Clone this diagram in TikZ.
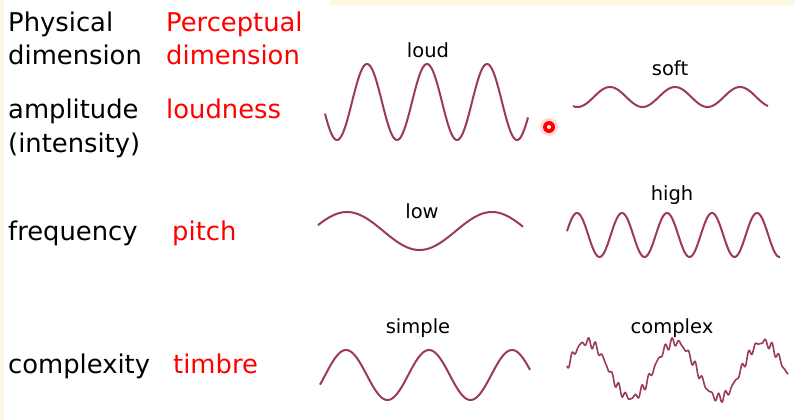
\documentclass[tikz,border=0pt]{standalone}
\usepackage{fontspec}
\setmainfont{DejaVu Sans}
\begin{document}
\begin{tikzpicture}[x=1pt,y=-1pt,
  big/.style={anchor=base west,inner sep=0pt,font=\fontsize{25.8}{30}\selectfont},
  phys/.style={big,text=black},
  perc/.style={big,text=red},
  lab/.style={anchor=base,inner sep=0pt,font=\fontsize{19.5}{23}\selectfont},
  wave/.style={line width=2pt,color=wavec,line join=round}]
\definecolor{wavec}{HTML}{9A3A5C}
\definecolor{cream}{HTML}{FDF8E4}
\useasboundingbox (0,0) rectangle (795,420);
\fill[white] (0,0) rectangle (795,420);
\fill[cream] (330,0) rectangle (795,5);
\fill[cream] (0,0) rectangle (4,420);
\node[phys] (p1) at (8,32) {Physical};
\node[phys] (p2) at (8,65) {dimension};
\node[phys] (p3) at (8,118) {amplitude};
\node[phys] (p4) at (8,152) {(intensity)};
\node[phys] (p5) at (8,240) {frequency};
\node[phys] (p6) at (8,373) {complexity};
\node[perc] (q1) at (166,32) {Perceptual};
\node[perc] (q2) at (166,65) {dimension};
\node[perc] (q3) at (166,118) {loudness};
\node[perc] (q4) at (172,240) {pitch};
\node[perc] (q5) at (173,373) {timbre};
\node[lab] (l1) at (428,58) {loud};
\node[lab] (l2) at (670,75) {soft};
\node[lab] (l3) at (422,218) {low};
\node[lab] (l4) at (672,200) {high};
\node[lab] (l5) at (418,333) {simple};
\node[lab] (l6) at (672,333) {complex};
% loud
\draw[wave] plot[domain=325:528,samples=200,smooth] (\x,{102-38*cos((\x-367)*6)});
% soft
\draw[wave] plot[domain=573:768,samples=150,smooth] (\x,{97-10*cos((\x-610)*5.538)});
% low
\draw[wave] plot[domain=318:523,samples=150,smooth] (\x,{231-19*cos((\x-347)*2.483)});
% high
\draw[wave] plot[domain=567:780,samples=250,smooth] (\x,{235-22*cos((\x-622)*8)});
% simple
\draw[wave] plot[domain=320:530,samples=200,smooth] (\x,{375-25*cos((\x-346)*4.337)});
% complex
\draw[wave,line width=1.6pt] plot[domain=567:788,samples=300] (\x,{370-28*cos((\x-587)*4.09)+3*sin((\x-567)*47)+2*sin((\x-567)*61)});
% red dot
\node[circle,fill=red!25,minimum size=18pt,inner sep=0pt,opacity=0.6] (g) at (549,127) {};
\node[circle,fill=red,minimum size=12pt,inner sep=0pt] (d) at (549,127) {};
\node[circle,fill=white,minimum size=4pt,inner sep=0pt] (dc) at (549,127) {};
\end{tikzpicture}
\end{document}
